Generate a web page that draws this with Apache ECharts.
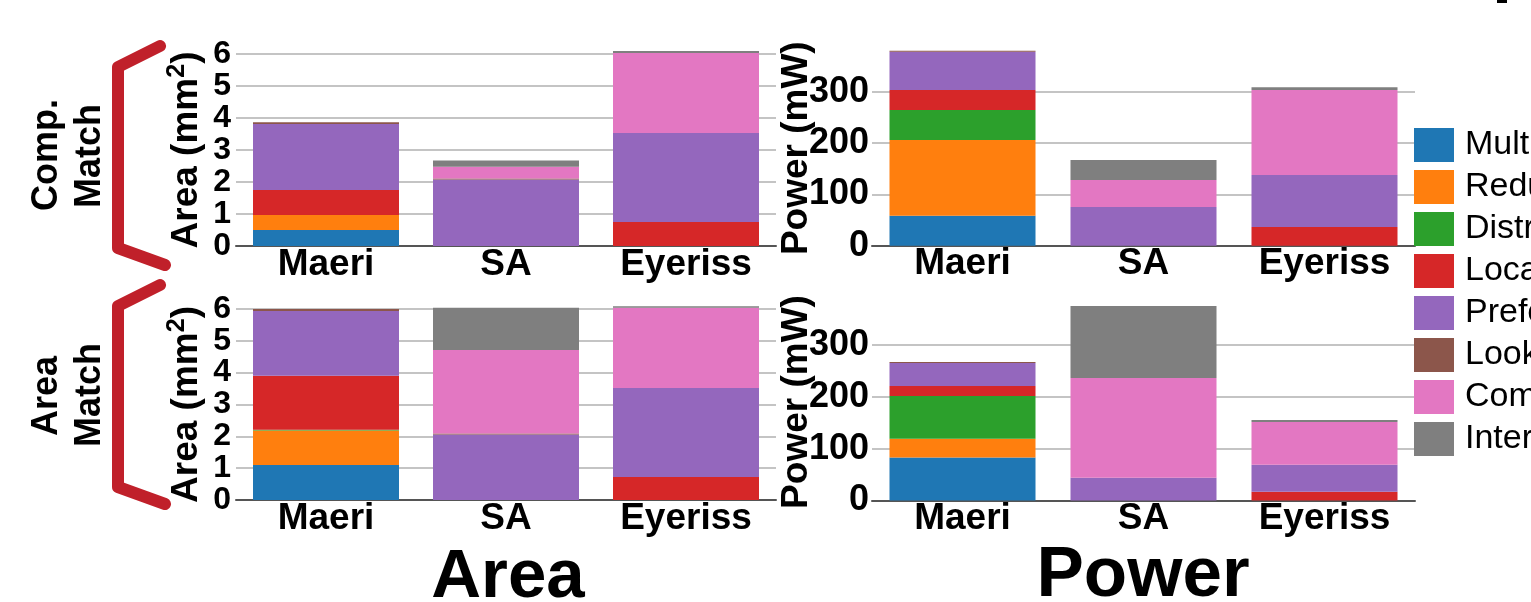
<!DOCTYPE html>
<html lang="en">
<head>
    <meta charset="UTF-8">
    <title>Area / Power breakdown</title>
    <script src="https://cdn.jsdelivr.net/npm/echarts@6/dist/echarts.min.js"></script>
    <style>
        html, body { margin: 0; padding: 0; background: #fff; }
        #render-target { width: 1531px; height: 602px; }
    </style>
</head>
<body>
    <div id="render-target"></div>
    <script>
        const categories = ["Maeri", "SA", "Eyeriss"]
        const components = [
            "Multiplier", "Reduction Network", "Distribution Network", "Local Buffer",
            "Prefetch Buffer", "Lookup Table", "Compute Unit", "Interconnect"
        ]
        const colors = ["#1f77b4", "#ff7f0e", "#2ca02c", "#d62728", "#9467bd", "#8c564b", "#e377c2", "#7f7f7f"]

        // rows follow components, columns follow categories
        const compMatchArea = [
            [0.50, 0, 0],
            [0.47, 0, 0],
            [0, 0, 0],
            [0.78, 0, 0.75],
            [2.06, 2.08, 2.78],
            [0.06, 0.03, 0],
            [0, 0.37, 2.50],
            [0, 0.19, 0.06]
        ]
        const compMatchPower = [
            [58.5, 0, 0],
            [147.5, 0, 0],
            [58.5, 0, 0],
            [39, 0, 36.4],
            [74.5, 75.4, 101.4],
            [2, 0, 0],
            [0, 52.6, 165.7],
            [0, 39, 5.5]
        ]
        const areaMatchArea = [
            [1.10, 0, 0],
            [1.08, 0, 0],
            [0.03, 0, 0],
            [1.69, 0, 0.72],
            [2.04, 2.06, 2.80],
            [0.06, 0.03, 0],
            [0, 2.62, 2.52],
            [0, 1.33, 0.05]
        ]
        const areaMatchPower = [
            [82.9, 0, 0],
            [36, 0, 0],
            [82.8, 0, 0],
            [19.3, 0, 16.8],
            [44.3, 43.7, 52],
            [1.7, 0, 0],
            [0, 192.7, 82.8],
            [0, 138.7, 3.9]
        ]

        const FONT = "'Liberation Sans', Arial, Helvetica, sans-serif"
        const GRID_COLOR = "#b0b0b0"

        const grids = [
            { left: 236, top: 54, width: 540, height: 192 },
            { left: 872, top: 50.7, width: 543, height: 195 },
            { left: 236, top: 309, width: 540, height: 191 },
            { left: 872, top: 303.5, width: 543, height: 197 }
        ]

        const xAxes = grids.map((_, i) => ({
            type: "category",
            gridIndex: i,
            data: categories,
            axisTick: { show: false },
            axisLine: { lineStyle: { color: "#555", width: 2 } },
            axisLabel: {
                color: "#000", fontFamily: FONT, fontWeight: "bold",
                fontSize: 37, margin: 0
            }
        }))

        function areaAxis(i) {
            return {
                type: "value", gridIndex: i, min: 0, max: 6, interval: 1,
                name: "Area (mm{s|2})",
                nameLocation: "middle", nameRotate: 90, nameGap: 28,
                nameMoveOverlap: false,
                nameTextStyle: {
                    color: "#000", fontFamily: FONT, fontWeight: "bold", fontSize: 37,
                    rich: { s: { fontFamily: FONT, fontWeight: "bold", fontSize: 25, padding: [0, 0, 18, 0] } }
                },
                axisLine: { show: false },
                axisTick: { show: false },
                axisLabel: {
                    color: "#000", fontFamily: FONT, fontWeight: "bold", fontSize: 32,
                    margin: 5, showMinLabel: true, showMaxLabel: true, hideOverlap: false
                },
                splitLine: { lineStyle: { color: GRID_COLOR, width: 1.5 } }
            }
        }
        function powerAxis(i) {
            return {
                type: "value", gridIndex: i, min: 0, max: 380, interval: 100,
                name: "Power (mW)",
                nameLocation: "middle", nameRotate: 90, nameGap: 57,
                nameMoveOverlap: false,
                nameTextStyle: { color: "#000", fontFamily: FONT, fontWeight: "bold", fontSize: 37 },
                axisLine: { show: false },
                axisTick: { show: false },
                axisLabel: {
                    color: "#000", fontFamily: FONT, fontWeight: "bold", fontSize: 36, margin: 3,
                    showMinLabel: true, showMaxLabel: false
                },
                splitLine: {
                    lineStyle: {
                        color: [GRID_COLOR, GRID_COLOR, GRID_COLOR, GRID_COLOR, "rgba(0,0,0,0)"],
                        width: 1.5
                    }
                }
            }
        }
        const yAxes = [areaAxis(0), powerAxis(1), areaAxis(2), powerAxis(3)]

        const panels = [compMatchArea, compMatchPower, areaMatchArea, areaMatchPower]
        const series = []
        panels.forEach((rows, p) => {
            rows.forEach((vals, k) => {
                series.push({
                    type: "bar",
                    name: components[k],
                    xAxisIndex: p,
                    yAxisIndex: p,
                    stack: "s" + p,
                    data: vals,
                    barWidth: 146,
                    clip: false,
                    itemStyle: { color: colors[k] },
                    emphasis: { disabled: true }
                })
            })
        })

        function bracket(yTop) {
            return {
                type: "polyline",
                shape: {
                    points: [[160, yTop], [118, yTop + 21], [118, yTop + 202], [165, yTop + 219]]
                },
                style: { stroke: "#c0202a", lineWidth: 12, lineCap: "round", lineJoin: "round", fill: null }
            }
        }
        function sideText(txt, x, y) {
            return {
                type: "text", x: x, y: y, rotation: Math.PI / 2,
                style: {
                    text: txt, fill: "#000", font: "bold 36px " + FONT,
                    textAlign: "center", textVerticalAlign: "middle"
                }
            }
        }

        const chart = echarts.init(document.querySelector("#render-target"), null, { renderer: "canvas" })
        chart.setOption({
            animation: false,
            color: colors,
            grid: grids,
            xAxis: xAxes,
            yAxis: yAxes,
            legend: {
                orient: "vertical",
                left: 1414, top: 128, padding: 0,
                itemWidth: 40, itemHeight: 34, itemGap: 8,
                icon: "rect",
                selectedMode: false,
                data: components,
                textStyle: { color: "#000", fontFamily: FONT, fontSize: 34, lineHeight: 34, padding: [0, 0, 0, 6] }
            },
            series: series,
            graphic: [
                bracket(46),
                bracket(285),
                sideText("Comp.", 47, 155),
                sideText("Match", 90, 156),
                sideText("Area", 47, 396),
                sideText("Match", 90, 395),
                { type: "rect", shape: { x: 1497, y: 0, width: 10, height: 3 }, style: { fill: "#000" } },
                {
                    type: "text", x: 508, y: 612,
                    style: { text: "Area", fill: "#000", font: "bold 69px " + FONT, textAlign: "center", textVerticalAlign: "bottom" }
                },
                {
                    type: "text", x: 1143, y: 612,
                    style: { text: "Power", fill: "#000", font: "bold 71px " + FONT, textAlign: "center", textVerticalAlign: "bottom" }
                }
            ]
        })
    </script>
</body>
</html>
